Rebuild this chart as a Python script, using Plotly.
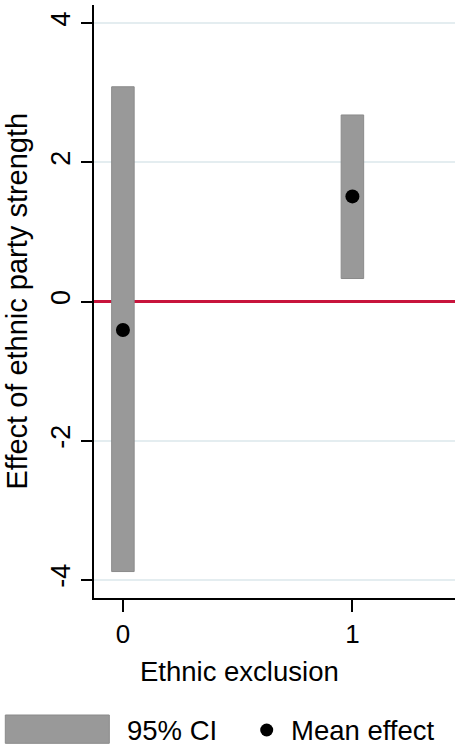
import plotly.graph_objects as go

categories = [0, 1]
ci_lower = [-3.88, 0.33]
ci_upper = [3.085, 2.68]
mean_effect = [-0.41, 1.51]
y_ticks = [-4, -2, 0, 2, 4]
x_ticks = [0, 1]

FONT = "Liberation Sans, Arial, sans-serif"
W, H = 455, 746
L, R, T, B = 94, 0, 5, 148
PW, PH = W - L - R, H - T - B

def px(x):
    return (x - L) / PW

def py(y):
    return (H - B - y) / PH

fig = go.Figure()
fig.add_trace(go.Bar(
    x=categories,
    y=[u - l for u, l in zip(ci_upper, ci_lower)],
    base=ci_lower,
    width=0.098,
    marker=dict(color="#999999", line=dict(color="#8a8a8a", width=1)),
    name="95% CI",
    showlegend=False,
))
fig.add_trace(go.Scatter(
    x=categories, y=mean_effect, mode="markers",
    marker=dict(color="black", size=14),
    name="Mean effect", showlegend=False,
))

# legend
fig.add_shape(type="rect", xref="paper", yref="paper",
              x0=px(5.3), x1=px(109.3), y0=py(743.3), y1=py(715),
              fillcolor="#999999", line=dict(color="#8a8a8a", width=1))
fig.add_shape(type="circle", xref="paper", yref="paper",
              xsizemode="pixel", ysizemode="pixel",
              xanchor=px(266.7), yanchor=py(730),
              x0=-6.5, x1=6.5, y0=-6.5, y1=6.5,
              fillcolor="black", line=dict(color="black", width=0))

ann = dict(xref="paper", yref="paper", showarrow=False,
           font=dict(family=FONT, size=27.5, color="black"))
fig.add_annotation(text="95% CI", x=px(125), y=py(730), xanchor="left", yanchor="middle", **ann)
fig.add_annotation(text="Mean effect", x=px(288.5), y=py(730), xanchor="left", yanchor="middle", **ann)
fig.add_annotation(text="Ethnic exclusion", x=px(239.5), y=py(671.7), xanchor="center", yanchor="middle",
                   xref="paper", yref="paper", showarrow=False,
                   font=dict(family=FONT, size=27.5, color="black"))
fig.add_annotation(text="Effect of ethnic party strength", x=px(16), y=0.5, textangle=-90,
                   xanchor="center", yanchor="middle",
                   xref="paper", yref="paper", showarrow=False,
                   font=dict(family=FONT, size=29, color="black"))

fig.update_layout(
    width=W, height=H,
    margin=dict(l=L, r=R, t=T, b=B),
    paper_bgcolor="white", plot_bgcolor="white",
    showlegend=False,
    font=dict(family=FONT, color="black"),
    xaxis=dict(range=[-0.126, 1.447], tickvals=x_ticks, ticktext=[str(v) for v in x_ticks],
               showgrid=False, zeroline=False, showline=True, linecolor="black", linewidth=2,
               ticks="outside", ticklen=12, tickwidth=2, tickcolor="black",
               tickfont=dict(family=FONT, size=26, color="black")),
    yaxis=dict(range=[-4.26, 4.26], tickvals=y_ticks, ticktext=[str(v) for v in y_ticks],
               showgrid=True, gridcolor="#e4edf0", gridwidth=2,
               zeroline=True, zerolinecolor="#c8143c", zerolinewidth=2.5,
               showline=True, linecolor="black", linewidth=2,
               ticks="outside", ticklen=11, tickwidth=2, tickcolor="black", tickangle=-90,
               tickfont=dict(family=FONT, size=27, color="black")),
)

fig.write_html("out.html", config={"displayModeBar": False},
               post_script="document.body.style.margin='0';document.body.style.padding='0';")
